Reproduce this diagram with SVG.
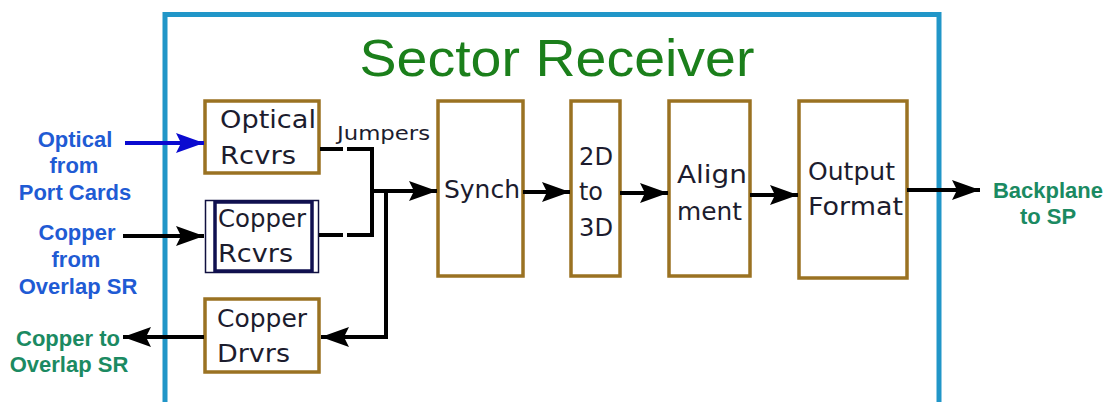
<svg xmlns="http://www.w3.org/2000/svg" width="1108" height="402" viewBox="0 0 1108 402">
<style>
.box{fill:#fff;stroke:#9a7222;stroke-width:3.5}
.bt{font-family:"DejaVu Sans",sans-serif;font-size:25px;fill:#1c1c2e}
.lbl{font-family:"Liberation Sans",Arial,sans-serif;font-weight:bold;font-size:22px;text-anchor:middle}
.blue{fill:#1f5bd4}
.green{fill:#1b8a62}
.wire{fill:none;stroke:#000;stroke-width:4}
</style>
<defs>
<marker id="ah" viewBox="-30 -12 32 24" markerWidth="32" markerHeight="24" markerUnits="userSpaceOnUse" refX="0" refY="0" orient="auto">
<path d="M0,0 L-28,-10 L-23,0 L-28,10 Z" fill="#000"/>
</marker>
<marker id="ahb" viewBox="-30 -12 32 24" markerWidth="32" markerHeight="24" markerUnits="userSpaceOnUse" refX="0" refY="0" orient="auto">
<path d="M0,0 L-28,-10 L-23,0 L-28,10 Z" fill="#0a0ad0"/>
</marker>
</defs>
<rect width="1108" height="402" fill="#fff"/>
<g id="frame">
<rect x="165" y="14.5" width="774" height="420" fill="#fff" stroke="#2196c8" stroke-width="5"/>
<text x="557" y="76" font-family="'Liberation Sans',Arial,sans-serif" font-size="52" fill="#1b7f1b" text-anchor="middle" textLength="395" lengthAdjust="spacingAndGlyphs">Sector Receiver</text>
</g>
<g id="optical-rcvrs">
<rect class="box" x="205" y="101" width="114" height="72"/>
<text class="bt" x="220" y="128" textLength="96" lengthAdjust="spacingAndGlyphs">Optical</text>
<text class="bt" x="220" y="164" textLength="76" lengthAdjust="spacingAndGlyphs">Rcvrs</text>
</g>
<g id="copper-rcvrs">
<rect x="205.5" y="200.5" width="113" height="72" fill="#fff" stroke="#101040" stroke-width="1.5"/>
<rect x="215" y="202" width="97" height="69" fill="#fff" stroke="#101050" stroke-width="3.5"/>
<text class="bt" x="218" y="227" textLength="88" lengthAdjust="spacingAndGlyphs">Copper</text>
<text class="bt" x="218" y="262" textLength="75" lengthAdjust="spacingAndGlyphs">Rcvrs</text>
</g>
<g id="copper-drvrs">
<rect class="box" x="205" y="299" width="114" height="73"/>
<text class="bt" x="217" y="327" textLength="90" lengthAdjust="spacingAndGlyphs">Copper</text>
<text class="bt" x="217" y="362" textLength="73" lengthAdjust="spacingAndGlyphs">Drvrs</text>
</g>
<g id="synch">
<rect class="box" x="438" y="101" width="85" height="175"/>
<text class="bt" x="444" y="198" textLength="76" lengthAdjust="spacingAndGlyphs">Synch</text>
</g>
<g id="2d-to-3d">
<rect class="box" x="571" y="101" width="49" height="175"/>
<text class="bt" x="579" y="165" textLength="34" lengthAdjust="spacingAndGlyphs">2D</text>
<text class="bt" x="579" y="200" textLength="24" lengthAdjust="spacingAndGlyphs">to</text>
<text class="bt" x="579" y="236" textLength="34" lengthAdjust="spacingAndGlyphs">3D</text>
</g>
<g id="alignment">
<rect class="box" x="669" y="101" width="81" height="175"/>
<text class="bt" x="677" y="183" textLength="70" lengthAdjust="spacingAndGlyphs">Align</text>
<text class="bt" x="677" y="220" textLength="65" lengthAdjust="spacingAndGlyphs">ment</text>
</g>
<g id="output-format">
<rect class="box" x="799" y="101" width="108" height="177"/>
<text class="bt" x="808" y="180" textLength="87" lengthAdjust="spacingAndGlyphs">Output</text>
<text class="bt" x="808" y="215" textLength="95" lengthAdjust="spacingAndGlyphs">Format</text>
</g>
<g id="labels">
<text class="lbl blue" x="75" y="147">Optical</text>
<text class="lbl blue" x="74" y="173">from</text>
<text class="lbl blue" x="75" y="200">Port Cards</text>
<text class="lbl blue" x="77" y="240">Copper</text>
<text class="lbl blue" x="76" y="267">from</text>
<text class="lbl blue" x="78" y="294">Overlap SR</text>
<text class="lbl green" x="68" y="346">Copper to</text>
<text class="lbl green" x="69" y="372">Overlap SR</text>
<text class="lbl green" x="1048" y="198">Backplane</text>
<text class="lbl green" x="1048" y="224">to SP</text>
<text x="337" y="140" font-family="'DejaVu Sans',sans-serif" font-size="20" fill="#1c1c2e" textLength="93" lengthAdjust="spacingAndGlyphs">Jumpers</text>
</g>
<g id="connectors">
<line x1="125" y1="143" x2="204" y2="143" stroke="#0a0ad0" stroke-width="4" marker-end="url(#ahb)"/>
<line class="wire" x1="123" y1="236" x2="204" y2="236" marker-end="url(#ah)"/>
<line class="wire" x1="204" y1="337" x2="123" y2="337" marker-end="url(#ah)"/>
<path class="wire" d="M320,149 H343 M347,149 H372 V235 H347 M343,235 H319"/>
<line class="wire" x1="372" y1="191" x2="437" y2="191" marker-end="url(#ah)"/>
<path class="wire" d="M386,191 V337 H321" marker-end="url(#ah)"/>
<line class="wire" x1="523" y1="192" x2="570" y2="192" marker-end="url(#ah)"/>
<line class="wire" x1="620" y1="193" x2="668" y2="193" marker-end="url(#ah)"/>
<line class="wire" x1="750" y1="195" x2="798" y2="195" marker-end="url(#ah)"/>
<line class="wire" x1="907" y1="190" x2="980" y2="190" marker-end="url(#ah)"/>
</g>
</svg>
